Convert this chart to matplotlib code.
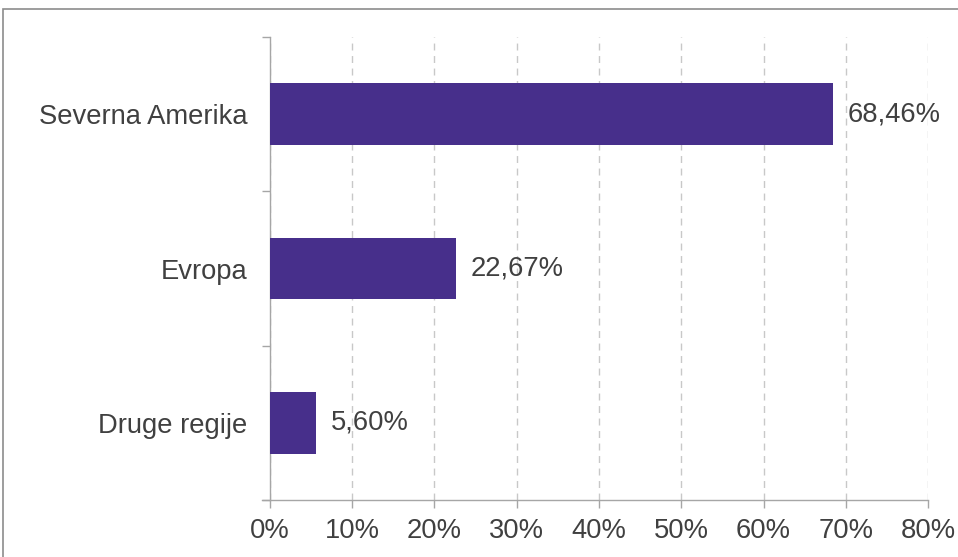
import matplotlib.pyplot as plt
from matplotlib.patches import Rectangle
from matplotlib.ticker import FixedLocator

plt.rcParams['font.family'] = ['Liberation Sans', 'DejaVu Sans']

# data (bottom to top)
regions = ["Druge regije", "Evropa", "Severna Amerika"]
shares = [5.60, 22.67, 68.46]
x_ticks = [0, 10, 20, 30, 40, 50, 60, 70, 80]

bar_color = '#472F8B'
text_color = '#404040'
axis_color = '#a6a6a6'
fs = 19.7

fig = plt.figure(figsize=(9.58, 5.57), dpi=100)
ax = fig.add_axes([0.2818, 0.1023, 0.9687 - 0.2818, 0.9336 - 0.1023])

pos = list(range(len(regions)))
bars = ax.barh(pos, shares, height=0.4, color=bar_color, zorder=3)

for b, v in zip(bars, shares):
    label = f"{v:.2f}".replace('.', ',') + '%'
    ax.annotate(label, (b.get_width(), b.get_y() + b.get_height() / 2),
                xytext=(10.5, 0), textcoords='offset points',
                va='center', ha='left', fontsize=fs, color=text_color)

ax.set_xlim(0, 80)
ax.set_ylim(-0.5, len(regions) - 0.5)
ax.set_xticks(x_ticks)
ax.set_xticklabels([f"{t}%" for t in x_ticks])
ax.set_yticks(pos)
ax.set_yticklabels(regions)
ax.yaxis.set_minor_locator(FixedLocator([-0.5, 0.5, 1.5, 2.5]))

ax.tick_params(axis='y', which='major', length=0, pad=16, labelsize=fs, labelcolor=text_color)
ax.tick_params(axis='y', which='minor', length=6, width=1, color=axis_color)
ax.tick_params(axis='x', which='major', length=6, width=1, color=axis_color,
               pad=7, labelsize=fs, labelcolor=text_color)

for s in ['top', 'right']:
    ax.spines[s].set_visible(False)
for s in ['left', 'bottom']:
    ax.spines[s].set_color(axis_color)
    ax.spines[s].set_linewidth(1)
ax.spines['bottom'].set_bounds(-1, 80)

ax.xaxis.grid(True, linestyle=(0, (5, 4)), color='#c8c8c8', linewidth=1, zorder=0)
ax.set_axisbelow(True)

# outer frame
fig.patches.append(Rectangle((2.5 / 958, -0.1), 1.2, 1 - 8.5 / 557 + 0.1,
                             transform=fig.transFigure, fill=False,
                             edgecolor='#8c8c8c', linewidth=1.2))

fig.savefig('out.png', dpi=100)
